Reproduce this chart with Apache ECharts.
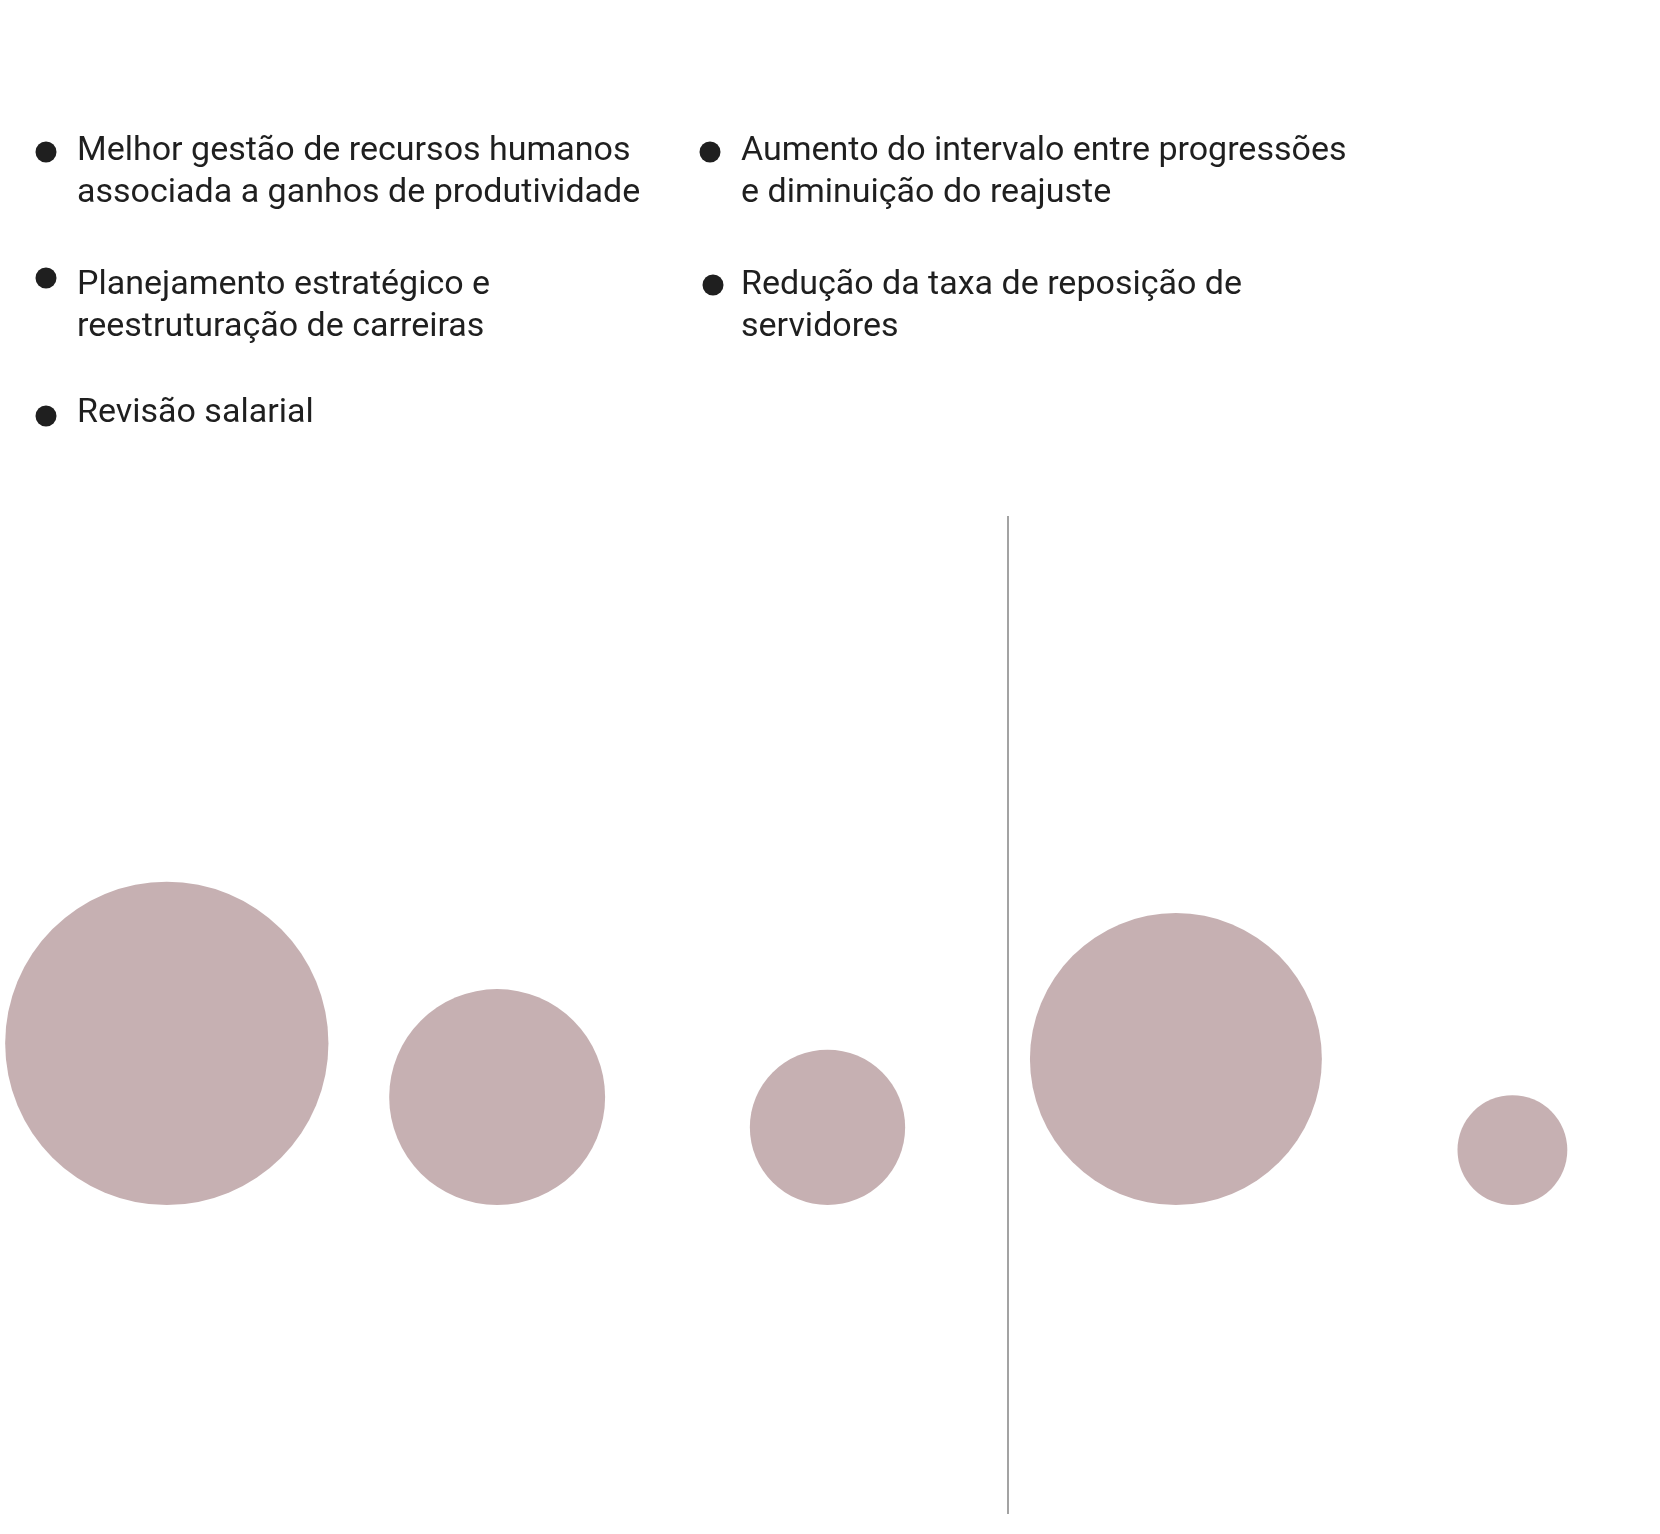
<!DOCTYPE html>
<html>
<head>
<meta charset="utf-8">
<script src="https://cdn.jsdelivr.net/npm/echarts@6/dist/echarts.min.js"></script>
<style>
  html, body { margin: 0; padding: 0; background: #ffffff; }
  #chart { width: 1660px; height: 1534px; }
</style>
</head>
<body>
<div id="chart"></div>
<script>
// ---- Data ----
const categories = [
  'Melhor gestão de recursos humanos\nassociada a ganhos de produtividade',
  'Planejamento estratégico e\nreestruturação de carreiras',
  'Revisão salarial',
  'Aumento do intervalo entre progressões\ne diminuição do reajuste',
  'Redução da taxa de reposição de\nservidores'
];
const groupA = [0, 1, 2];          // indices of categories in left group
const groupB = [3, 4];             // indices of categories in right group
const values = [65, 29, 15, 53, 7.5]; // circle area values (estimated)

// ---- Styles ----
const CIRCLE_COLOR = '#c6b0b2';
const TEXT_COLOR = '#1f1f1f';
const FONT = 'Roboto, "Noto Sans", sans-serif';
const sizeScale = 40.1; // diameter = sizeScale * sqrt(value)

const chart = echarts.init(document.getElementById('chart'), null, { renderer: 'canvas' });

function seriesFor(group, gridIdx) {
  return {
    type: 'scatter',
    xAxisIndex: gridIdx,
    yAxisIndex: gridIdx,
    symbol: 'circle',
    symbolOffset: [0, '-50%'],
    symbolSize: function (d) { return sizeScale * Math.sqrt(d[2]); },
    itemStyle: { color: CIRCLE_COLOR, opacity: 1 },
    emphasis: { disabled: true },
    silent: true,
    data: group.map(function (i) { return [categories[i], 0, values[i]]; })
  };
}

// legend drawn as text + bullet, laid out in two columns
const legendLayout = [
  { x: 77, y: 130 },  // col 1 row 1
  { x: 77, y: 264 },  // col 1 row 2
  { x: 77, y: 392 },  // col 1 row 3
  { x: 741, y: 130 }, // col 2 row 1
  { x: 741, y: 264 }  // col 2 row 2
];
const bulletOffsets = [
  { dx: -31, dy: 22 },
  { dx: -31, dy: 14 },
  { dx: -31, dy: 24 },
  { dx: -31, dy: 22 },
  { dx: -28, dy: 21 }
];
const legendGraphics = [];
categories.forEach(function (name, i) {
  const p = legendLayout[i];
  const b = bulletOffsets[i];
  legendGraphics.push({
    type: 'circle',
    shape: { cx: p.x + b.dx, cy: p.y + b.dy, r: 10.5 },
    style: { fill: TEXT_COLOR },
    silent: true
  });
  legendGraphics.push({
    type: 'text',
    x: p.x,
    y: p.y,
    style: {
      text: name,
      fill: TEXT_COLOR,
      font: '34px ' + FONT,
      lineHeight: 42,
      textVerticalAlign: 'top'
    },
    silent: true
  });
});

const option = {
  backgroundColor: '#ffffff',
  animation: false,
  grid: [
    { left: 166.8, right: 1660 - 827.5, top: 520, bottom: 1534 - 1205 },
    { left: 1175.9, right: 1660 - 1512.4, top: 520, bottom: 1534 - 1205 }
  ],
  xAxis: [
    { gridIndex: 0, type: 'category', boundaryGap: false, data: groupA.map(function (i) { return categories[i]; }), show: false },
    { gridIndex: 1, type: 'category', boundaryGap: false, data: groupB.map(function (i) { return categories[i]; }), show: false }
  ],
  yAxis: [
    { gridIndex: 0, type: 'value', min: 0, max: 1, show: false },
    { gridIndex: 1, type: 'value', min: 0, max: 1, show: false }
  ],
  series: [seriesFor(groupA, 0), seriesFor(groupB, 1)],
  graphic: legendGraphics.concat([
    {
      type: 'line',
      shape: { x1: 1008, y1: 516, x2: 1008, y2: 1514 },
      style: { stroke: '#8c8c8c', lineWidth: 1.6 },
      silent: true
    }
  ])
};

chart.setOption(option);
</script>
</body>
</html>
